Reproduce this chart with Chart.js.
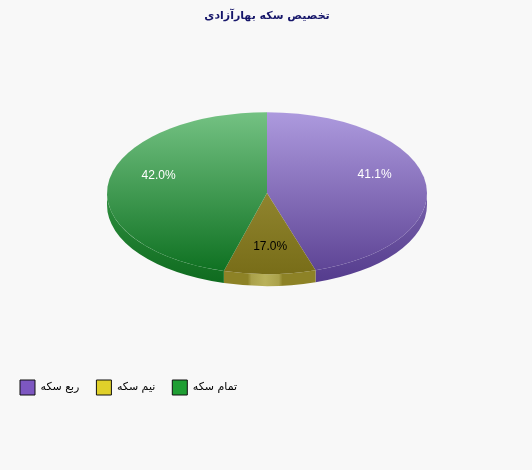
<!DOCTYPE html>
<html>
<head>
<meta charset="utf-8">
<style>
  html, body { margin:0; padding:0; background:#f8f8f8; }
  canvas { display:block; }
</style>
<script src="https://cdn.jsdelivr.net/npm/chart.js@4"></script>
</head>
<body>
<canvas id="ch-coins" width="532" height="470"></canvas>
<script>
const chartTitle = 'تخصیص سکه بهارآزادی';
const categories = ['ربع سکه', 'نیم سکه', 'تمام سکه'];
const shares = [41.1, 17.0, 42.0];
const legendColors = ['#7d57c1', '#e0d02a', '#1f9e33'];
const topLight = ['#ad9ade', '#a89c45', '#74c283'];
const topDark = ['#5d4394', '#786d18', '#0d7020'];
const sideLight = ['#7862ab', '#8d8226', '#2f8f40'];
const sideDark = ['#533a8c', '#8d8226', '#0e6a1e'];
const labelColors = ['#ffffff', '#000000', '#ffffff'];

const SQUASH = 0.506;
const DEPTH = 12;

// screen angle -> ellipse parameter, so the wedges keep their true angle on the tilted face
function toParam(a, rx, ry) {
  let t = Math.atan2(rx * Math.sin(a), ry * Math.cos(a));
  if (t < -Math.PI / 2 - 1e-6) t += Math.PI * 2;
  return t;
}

const pie3d = {
  id: 'pie3d',
  beforeDatasetDraw(chart) {
    const ctx = chart.ctx;
    const arcs = chart.getDatasetMeta(0).data;
    const geo = arcs.map(arc => {
      const rx = arc.outerRadius, ry = rx * SQUASH;
      let t1 = toParam(arc.startAngle, rx, ry);
      let t2 = toParam(arc.endAngle, rx, ry);
      if (t2 <= t1) t2 += Math.PI * 2;
      return { x: arc.x, y: arc.y, rx, ry, t1, t2 };
    });

    // rim first, only the front half shows
    geo.forEach((g, i) => {
      const from = Math.max(g.t1, 0), to = Math.min(g.t2, Math.PI);
      if (to <= from) return;
      ctx.beginPath();
      ctx.ellipse(g.x, g.y, g.rx, g.ry, 0, from, to);
      ctx.ellipse(g.x, g.y + DEPTH, g.rx, g.ry, 0, to, from, true);
      ctx.closePath();
      if (i === 1) {
        const x1 = g.x + g.rx * Math.cos(from), x2 = g.x + g.rx * Math.cos(to);
        const grad = ctx.createLinearGradient(x2, 0, x1, 0);
        grad.addColorStop(0, sideLight[i]);
        grad.addColorStop(0.26, sideLight[i]);
        grad.addColorStop(0.3, '#aaa14a');
        grad.addColorStop(0.45, '#b9b15a');
        grad.addColorStop(0.6, '#aaa14a');
        grad.addColorStop(0.64, sideDark[i]);
        grad.addColorStop(1, sideDark[i]);
        ctx.fillStyle = grad;
      } else {
        const grad = ctx.createLinearGradient(0, g.y, 0, g.y + g.ry + DEPTH);
        grad.addColorStop(0, sideLight[i]);
        grad.addColorStop(1, sideDark[i]);
        ctx.fillStyle = grad;
      }
      ctx.fill();
    });

    geo.forEach((g, i) => {
      ctx.beginPath();
      ctx.moveTo(g.x, g.y);
      ctx.ellipse(g.x, g.y, g.rx, g.ry, 0, g.t1, g.t2);
      ctx.closePath();
      const grad = ctx.createLinearGradient(0, g.y - g.ry, 0, g.y + g.ry);
      grad.addColorStop(0, topLight[i]);
      grad.addColorStop(1, topDark[i]);
      ctx.fillStyle = grad;
      ctx.fill();
    });
    return false;
  },
  afterDatasetsDraw(chart) {
    const ctx = chart.ctx;
    ctx.save();
    ctx.font = '12px "Liberation Sans"';
    ctx.textAlign = 'center';
    ctx.textBaseline = 'middle';
    chart.getDatasetMeta(0).data.forEach((arc, i) => {
      const mid = (arc.startAngle + arc.endAngle) / 2;
      const rx = arc.outerRadius, ry = rx * SQUASH;
      ctx.fillStyle = labelColors[i];
      ctx.fillText(shares[i].toFixed(1) + '%', arc.x + 0.7 * rx * Math.cos(mid), arc.y + 0.7 * ry * Math.sin(mid) - 3);
    });
    ctx.restore();
  }
};

new Chart(document.getElementById('ch-coins'), {
  type: 'pie',
  data: {
    labels: categories,
    datasets: [{ data: shares, backgroundColor: legendColors, borderWidth: 0 }]
  },
  options: {
    responsive: false,
    animation: false,
    radius: 160,
    layout: { padding: { left: 3, right: 1, bottom: 65 } },
    plugins: {
      tooltip: { enabled: false },
      title: {
        display: true,
        text: chartTitle,
        color: '#16166a',
        font: { family: '"DejaVu Sans"', size: 11, weight: 'bold' },
        padding: { top: 10, bottom: 0 }
      },
      legend: {
        position: 'bottom',
        align: 'start',
        labels: {
          boxWidth: 15,
          boxHeight: 15,
          padding: 17,
          color: '#111111',
          font: { family: '"DejaVu Sans"', size: 11 },
          generateLabels: chart => categories.map((c, i) => ({
            text: c,
            fillStyle: legendColors[i],
            strokeStyle: '#111111',
            lineWidth: 1,
            lineJoin: 'miter',
            index: i
          }))
        }
      }
    }
  },
  plugins: [pie3d]
});
</script>
</body>
</html>
